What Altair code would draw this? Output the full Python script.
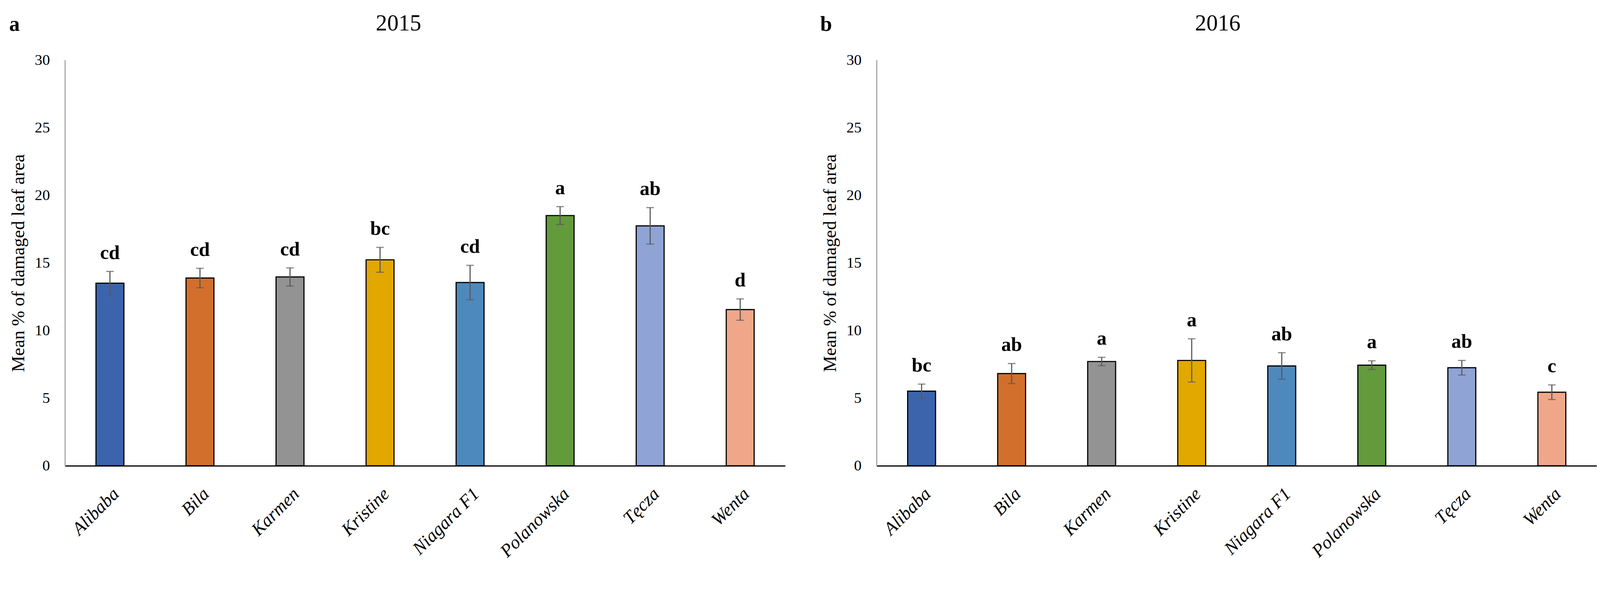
import altair as alt
import pandas as pd

cultivars = ["Alibaba", "Bila", "Karmen", "Kristine", "Niagara F1", "Polanowska", "Tęcza", "Wenta"]
colors = ["#3C64AD", "#D36F2C", "#939393", "#E2A800", "#4E89BE", "#629A3C", "#8FA4D4", "#F0A789"]

mean_2015 = [13.50, 13.88, 13.96, 15.23, 13.55, 18.50, 17.74, 11.55]
se_2015 = [0.87, 0.72, 0.67, 0.92, 1.27, 0.66, 1.35, 0.79]
letters_2015 = ["cd", "cd", "cd", "bc", "cd", "a", "ab", "d"]

mean_2016 = [5.52, 6.82, 7.71, 7.79, 7.38, 7.44, 7.25, 5.44]
se_2016 = [0.52, 0.74, 0.31, 1.60, 0.98, 0.32, 0.54, 0.54]
letters_2016 = ["bc", "ab", "a", "a", "ab", "a", "ab", "c"]

y_ticks = [0, 5, 10, 15, 20, 25, 30]

SERIF = "Liberation Serif"
W, H = 1900, 1070


def panel(year, means, ses, letters, tag, title_x):
    df = pd.DataFrame({
        "cultivar": cultivars,
        "mean": means,
        "lo": [m - s for m, s in zip(means, ses)],
        "hi": [m + s for m, s in zip(means, ses)],
        "letter": letters,
    })
    base = alt.Chart(df)
    x = alt.X(
        "cultivar:N",
        sort=cultivars,
        scale=alt.Scale(paddingInner=0.69, paddingOuter=0.345),
        axis=alt.Axis(
            title=None, labelAngle=-45, labelFont=SERIF, labelFontStyle="italic",
            labelFontSize=48, labelPadding=50, ticks=False, domainColor="black",
            domainWidth=3, labelColor="black", labelLimit=0,
        ),
    )
    yscale = alt.Scale(domain=[0, 30], nice=False)
    bars = base.mark_bar(stroke="black", strokeWidth=3).encode(
        x=x,
        y=alt.Y(
            "mean:Q", scale=yscale,
            axis=alt.Axis(
                title="Mean % of damaged leaf area", titleFont=SERIF, titleFontSize=48,
                titleFontWeight="normal", titleColor="black", titlePadding=18,
                values=y_ticks, labelFont=SERIF, labelFontSize=40, labelColor="black",
                labelPadding=40, ticks=False, grid=False, domainColor="#A6A6A6", domainWidth=3,
            ),
        ),
        color=alt.Color("cultivar:N", scale=alt.Scale(domain=cultivars, range=colors), legend=None),
    )
    rules = base.mark_rule(color="#595959", strokeWidth=3).encode(
        x=x, y=alt.Y("lo:Q", scale=yscale), y2="hi:Q"
    )
    cap_lo = base.mark_tick(color="#595959", thickness=3, size=20).encode(x=x, y=alt.Y("lo:Q", scale=yscale))
    cap_hi = base.mark_tick(color="#595959", thickness=3, size=20).encode(x=x, y=alt.Y("hi:Q", scale=yscale))
    text = base.mark_text(
        dy=-22, baseline="bottom", font=SERIF, fontWeight="bold", fontSize=52, color="black"
    ).encode(x=x, y=alt.Y("hi:Q", scale=yscale), text="letter:N")
    tagmark = alt.Chart(pd.DataFrame({"t": [tag]})).mark_text(
        font=SERIF, fontWeight="bold", fontSize=56, color="black", baseline="middle", align="center"
    ).encode(text="t:N", x=alt.value(-133), y=alt.value(-94))
    titlemark = alt.Chart(pd.DataFrame({"t": [year]})).mark_text(
        font=SERIF, fontSize=60, color="black", baseline="middle", align="center"
    ).encode(text="t:N", x=alt.value(title_x), y=alt.value(-96))
    return alt.layer(bars, rules, cap_lo, cap_hi, text, tagmark, titlemark).properties(
        width=W, height=H,
    )


chart = alt.hconcat(
    panel("2015", mean_2015, se_2015, letters_2015, "a", 880),
    panel("2016", mean_2016, se_2016, letters_2016, "b", 900),
    spacing=92,
).configure_view(stroke=None).properties(padding={"left": 16, "top": 2, "right": 0, "bottom": 0})

chart.save("out.html", embed_options={"renderer": "svg", "actions": False})
